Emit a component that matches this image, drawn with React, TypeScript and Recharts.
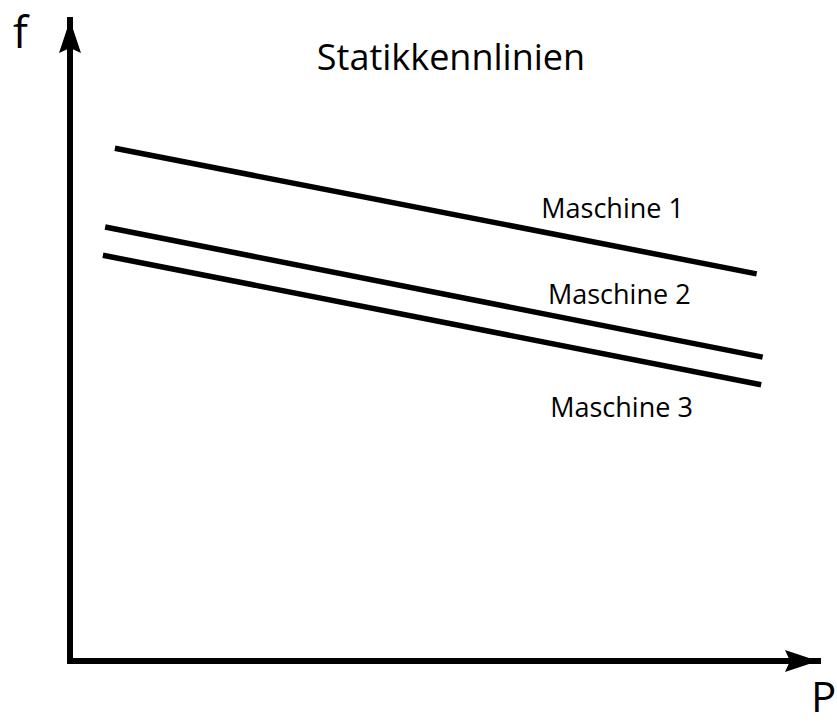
import React from 'react';
import { LineChart, Line, XAxis, YAxis, ReferenceDot, ReferenceLine } from 'recharts';

const machine1 = [
  { p: 6.0, f: 80.0 },
  { p: 91.8, f: 60.4 },
];
const machine2 = [
  { p: 4.7, f: 67.7 },
  { p: 92.6, f: 47.4 },
];
const machine3 = [
  { p: 4.4, f: 63.3 },
  { p: 92.4, f: 43.1 },
];
const seriesNames = ['Maschine 1', 'Maschine 2', 'Maschine 3'];
const labelPositions = [
  { p: 63.0, f: 69.1 },
  { p: 63.9, f: 55.7 },
  { p: 64.2, f: 38.1 },
];
const titleText = 'Statikkennlinien';
const xAxisLabel = 'P';
const yAxisLabel = 'f';

const FONT = '"Open Sans", "Noto Sans", sans-serif';

const UpArrow = (props: any) => {
  const { cx, cy } = props;
  return (
    <polygon
      points={`${cx},${cy} ${cx - 11},${cy + 33} ${cx},${cy + 28} ${cx + 11},${cy + 33}`}
      fill="#000"
    />
  );
};

const RightArrow = (props: any) => {
  const { cx, cy } = props;
  return (
    <polygon
      points={`${cx},${cy} ${cx - 33},${cy - 11} ${cx - 28},${cy} ${cx - 33},${cy + 11}`}
      fill="#000"
    />
  );
};

const makeLabel = (text: string) => (props: any) => {
  const vb = props.viewBox || {};
  return (
    <text x={vb.x} y={vb.y} fill="#000" fontSize={27} fontFamily={FONT} textAnchor="start">
      {text}
    </text>
  );
};

export default function App() {
  return (
    <div style={{ position: 'absolute', left: 0, top: 0, width: 837, height: 727, background: '#fff' }}>
      <LineChart
        width={837}
        height={727}
        margin={{ top: 20, right: 19, bottom: 66, left: 70 }}
      >
        <XAxis type="number" dataKey="p" domain={[0, 100]} hide allowDataOverflow />
        <YAxis type="number" dataKey="f" domain={[0, 100]} hide allowDataOverflow />
        <ReferenceLine x={0} stroke="#000" strokeWidth={6} strokeLinecap="square" ifOverflow="visible" />
        <ReferenceLine y={0} stroke="#000" strokeWidth={6} strokeLinecap="square" ifOverflow="visible" />
        <Line data={machine1} dataKey="f" stroke="#000" strokeWidth={5.5} dot={false} isAnimationActive={false} />
        <Line data={machine2} dataKey="f" stroke="#000" strokeWidth={5.5} dot={false} isAnimationActive={false} />
        <Line data={machine3} dataKey="f" stroke="#000" strokeWidth={5.5} dot={false} isAnimationActive={false} />
        <ReferenceDot x={0} y={100} ifOverflow="visible" shape={UpArrow} />
        <ReferenceDot x={100} y={0} ifOverflow="visible" shape={RightArrow} />
        {labelPositions.map((pos, i) => (
          <ReferenceDot
            key={i}
            x={pos.p}
            y={pos.f}
            r={0}
            fill="none"
            stroke="none"
            ifOverflow="visible"
            label={makeLabel(seriesNames[i])}
          />
        ))}
      </LineChart>
      <svg width={837} height={727} style={{ position: 'absolute', left: 0, top: 0, pointerEvents: 'none' }}>
        <text x={451} y={70} textAnchor="middle" fontFamily={FONT} fontSize={36} fill="#000">
          {titleText}
        </text>
        <text x={13} y={48} fontFamily={FONT} fontSize={44} fill="#000">
          {yAxisLabel}
        </text>
        <text x={811} y={712} fontFamily={FONT} fontSize={42} fill="#000">
          {xAxisLabel}
        </text>
      </svg>
    </div>
  );
}
